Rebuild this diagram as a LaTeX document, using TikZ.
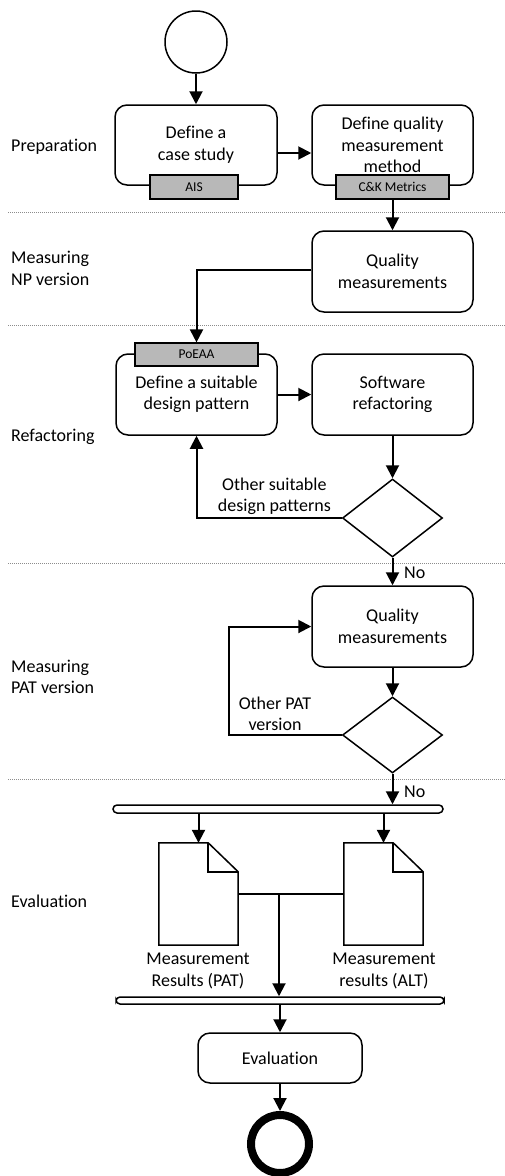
\documentclass[tikz,border=0pt]{standalone}
\usepackage{fontspec}
\setmainfont{Carlito}[Ligatures={NoCommon}]
\usetikzlibrary{arrows.meta,shapes.geometric,calc}
\begin{document}
\begin{tikzpicture}[x=1pt,y=-1pt,
  every node/.style={font=\fontsize{18}{21.5}\selectfont},
  proc/.style={draw,line width=1.5pt,rounded corners=12pt,minimum width=161pt,minimum height=81pt,inner sep=0pt,align=center,fill=white},
  tagbox/.style={draw,line width=1.2pt,fill=black!28,inner sep=0pt,minimum height=24pt,font=\fontsize{13.5}{15}\selectfont},
  dec/.style={draw,line width=1.5pt,diamond,aspect=1.28,minimum width=100pt,minimum height=78pt,inner sep=0pt},
  bar/.style={draw,line width=1.5pt,rounded corners=4pt,inner sep=0pt},
  arr/.style={line width=2pt,-{Triangle[length=13pt,width=13pt]}},
  ln/.style={line width=2pt},
  lane/.style={draw=black!45,line width=0.9pt,dash pattern=on 1.2pt off 0.8pt},
  lanelab/.style={anchor=west,align=left,inner sep=0pt},
  lab/.style={align=center,inner sep=0pt}
]
\useasboundingbox (0,0) rectangle (505,1176);
% swimlane separators
\coordinate (l1a) at (8,212); \coordinate (l1b) at (505,212);
\coordinate (l2a) at (8,325); \coordinate (l2b) at (505,325);
\coordinate (l3a) at (8,563); \coordinate (l3b) at (505,563);
\coordinate (l4a) at (8,779); \coordinate (l4b) at (505,779);
\draw[lane] (l1a) -- (l1b);
\draw[lane] (l2a) -- (l2b);
\draw[lane] (l3a) -- (l3b);
\draw[lane] (l4a) -- (l4b);
% lane labels
\node[lanelab] (lp) at (11,147) {Preparation};
\node[lanelab] (lnp) at (11,268.5) {Measuring\\NP version};
\node[lanelab] (lr) at (11,437) {Refactoring};
\node[lanelab] (lpat) at (11,677) {Measuring\\PAT version};
\node[lanelab] (le) at (11,901) {Evaluation};
% start
\node[draw,circle,line width=1.5pt,minimum size=62pt,inner sep=0pt] (start) at (196,42) {};
% preparation
\node[proc,minimum width=162pt,minimum height=80pt] (b1) at (196,145) {Define a\\case study};
\node[proc,minimum height=80pt] (b2) at (392.5,145) {Define quality\\measurement\\method};
\node[tagbox,minimum width=88pt] (ais) at (194,187) {AIS};
\node[tagbox,minimum width=113pt] (ck) at (392.5,187) {C\&K Metrics};
% NP measuring
\node[proc] (b3) at (392.5,271.5) {Quality\\measurements};
% refactoring
\node[proc] (b4) at (196.5,394.5) {Define a suitable\\design pattern};
\node[tagbox,minimum width=123pt,minimum height=23pt] (poeaa) at (196.5,354.5) {PoEAA};
\node[proc] (b5) at (392.5,394.5) {Software\\refactoring};
\node[dec] (d1) at (392.5,518) {};
% PAT measuring
\node[proc] (b6) at (392.5,626.5) {Quality\\measurements};
\node[dec,minimum height=76pt] (d2) at (392.5,735) {};
% evaluation
\node[bar,minimum width=330pt,minimum height=8pt] (bar1) at (278,809) {};
\node[minimum width=79pt,minimum height=102pt,inner sep=0pt] (doc1) at (198.5,894) {};
\node[minimum width=79pt,minimum height=102pt,inner sep=0pt] (doc2) at (383.5,894) {};
\draw[line width=1.5pt] (doc1.north west) -- ([xshift=-30pt]doc1.north east) -- ([yshift=-29pt]doc1.north east) -- (doc1.south east) -- (doc1.south west) -- cycle;
\draw[line width=1.5pt] ([xshift=-30pt]doc1.north east) -- ([xshift=-30pt,yshift=-29pt]doc1.north east) -- ([yshift=-29pt]doc1.north east);
\draw[line width=1.5pt] (doc2.north west) -- ([xshift=-30pt]doc2.north east) -- ([yshift=-29pt]doc2.north east) -- (doc2.south east) -- (doc2.south west) -- cycle;
\draw[line width=1.5pt] ([xshift=-30pt]doc2.north east) -- ([xshift=-30pt,yshift=-29pt]doc2.north east) -- ([yshift=-29pt]doc2.north east);
\node[lab] (t1) at (198,971) {Measurement\\Results (PAT)};
\node[lab] (t2) at (384,971) {Measurement\\results (ALT)};
\node[bar,minimum width=328pt,minimum height=7pt] (bar2) at (280,1000.5) {};
\node[proc,minimum width=164pt,minimum height=50pt] (ev) at (280,1058) {Evaluation};
\node[draw,circle,line width=8pt,minimum size=58pt,inner sep=0pt] (end) at (280,1144) {};
% connectors
\draw[arr] (start) -- (b1);
\draw[arr] ([yshift=-8pt]b1.east) -- ([yshift=-8pt]b2.west);
\draw[arr] (ck.south) -- (b3.north);
\draw[arr] ([yshift=1.5pt]b3.west) -| (poeaa.north);
\draw[arr] (b4.east) -- (b5.west);
\draw[arr] (b5.south) -- (d1.north);
\draw[arr] (d1.west) -| (b4.south);
\node[lab,anchor=south east] (o1) at (331,515) {Other suitable\\design patterns};
\draw[arr] (d1.south) -- (b6.north);
\node[inner sep=0pt,anchor=west] (no1) at (404,573) {No};
\draw[arr] (b6.south) -- (d2.north);
\coordinate (c1) at (229,735);
\draw[arr] (d2.west) -- (c1) |- (b6.west);
\node[lab] (o2) at (275,714) {Other PAT\\version};
\draw[arr] (d2.south) -- (d2.south |- bar1.north);
\node[inner sep=0pt,anchor=west] (no2) at (404,792) {No};
\draw[arr] (bar1.south -| doc1.north) -- (doc1.north);
\draw[arr] (bar1.south -| doc2.north) -- (doc2.north);
\coordinate (j) at (279,894);
\draw[ln] (doc1.east) -- (doc2.west);
\draw[arr] (j) -- (j |- bar2.north);
\draw[arr] (bar2.south -| ev.north) -- (ev.north);
\draw[arr] (ev.south) -- (end.north);
\end{tikzpicture}
\end{document}
